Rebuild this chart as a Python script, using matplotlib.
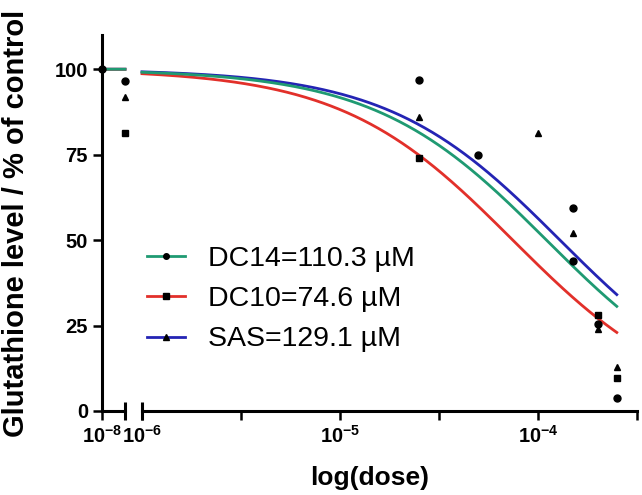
import numpy as np
import matplotlib
matplotlib.use("Agg")
import matplotlib.pyplot as plt
from matplotlib.lines import Line2D

plt.rcParams['font.family'] = ['Liberation Sans', 'DejaVu Sans']
plt.rcParams['mathtext.fontset'] = 'custom'
plt.rcParams['mathtext.rm'] = 'Liberation Sans:bold'
plt.rcParams['mathtext.it'] = 'Liberation Sans:bold'
plt.rcParams['mathtext.bf'] = 'Liberation Sans:bold'

# fitted IC50 values (M) from the legend
names = ['DC14', 'DC10', 'SAS']
ic50 = [110.3e-6, 74.6e-6, 129.1e-6]
colors = ['#1f9a72', '#e2302a', '#2424b4']
markers = ['o', 's', '^']

# measured points (dose in M, glutathione % of control)
dc14_dose = [1e-8, 1.25e-8, 2.5e-5, 5e-5, 1.5e-4, 1.5e-4, 2e-4, 2.5e-4]
dc14_val = [100, 96.5, 96.7, 75, 59.5, 43.8, 25.5, 3.8]
dc10_dose = [1.25e-8, 2.5e-5, 2e-4, 2.5e-4]
dc10_val = [81.2, 74, 28.2, 9.7]
sas_dose = [1.25e-8, 2.5e-5, 1e-4, 1.5e-4, 2e-4, 2.5e-4]
sas_val = [91.8, 86, 81.2, 52.2, 24, 12.9]

doses = [dc14_dose, dc10_dose, sas_dose]
vals = [dc14_val, dc10_val, sas_val]

yticks = [0, 25, 50, 75, 100]

fig = plt.figure(figsize=(6.42, 4.95), dpi=100)
W, H = 642, 495
bot = (H - 411) / H
hgt = (411 - 35) / H
ax1 = fig.add_axes([102 / W, bot, 23 / W, hgt])
ax2 = fig.add_axes([142 / W, bot, 495 / W, hgt])

seg1 = (1e-8, 1.25e-8)
seg2 = (1e-6, 10 ** -3.5)

x1 = np.logspace(np.log10(seg1[0]), np.log10(seg1[1]), 50)
x2 = np.logspace(-6, np.log10(2.5e-4), 300)

# draw order: SAS, DC10, DC14 so the green curve sits on top
order = [2, 1, 0]
for ax in (ax1, ax2):
    xx = x1 if ax is ax1 else x2
    for i in order:
        ax.plot(xx, 100 / (1 + xx / ic50[i]), color=colors[i], lw=2.0,
                clip_on=False, zorder=2)
    for d, v, m in zip(doses, vals, markers):
        ax.plot(d, v, linestyle='none', marker=m, color='black',
                markersize=5, clip_on=False, zorder=3)
    ax.set_xscale('log')
    ax.set_ylim(0, 110)
    ax.spines['top'].set_visible(False)
    ax.spines['right'].set_visible(False)
    ax.spines['bottom'].set_linewidth(2.2)
    ax.spines['left'].set_linewidth(2.2)
    ax.tick_params(axis='both', which='both', direction='out', length=6.5,
                   width=1.8, labelsize=14.5, pad=3.5)

ax1.set_xlim(*seg1)
ax2.set_xlim(*seg2)

ax1.set_yticks(yticks)
ax1.set_yticklabels([str(t) for t in yticks], fontweight='bold', fontsize=14.5)
ax1.set_xticks([1e-8])
ax1.set_xticks([], minor=True)
ax1.set_xticklabels([r'$10^{-8}$'])

ax2.spines['left'].set_visible(False)
ax2.set_yticks([])
ax2.set_xticks([1e-6, 1e-5, 1e-4])
ax2.set_xticklabels([r'$10^{-6}$', r'$10^{-5}$', r'$10^{-4}$'])
ax2.set_xticks([10 ** -5.5, 10 ** -4.5, 10 ** -3.5], minor=True)
ax2.set_xticklabels([], minor=True)

# break caps
ax1.plot([1, 1], [-0.024, 0.024], transform=ax1.transAxes, color='black',
         lw=2.2, clip_on=False, solid_capstyle='butt')
ax2.plot([0, 0], [-0.024, 0.024], transform=ax2.transAxes, color='black',
         lw=2.2, clip_on=False, solid_capstyle='butt')

fig.text(16 / W, 1 - 223 / H, 'Glutathione level / % of control', rotation=90,
         ha='center', va='center', fontsize=21, fontweight='bold')
fig.text(370 / W, 1 - 478 / H, 'log(dose)', ha='center', va='center',
         fontsize=19, fontweight='bold')

handles = [Line2D([], [], color=c, lw=2.0, marker=m, markersize=4,
                  markerfacecolor='black', markeredgecolor='black')
           for c, m in zip(colors, markers)]
labels = ['%s=%.1f µM' % (n, v * 1e6) for n, v in zip(names, ic50)]
fig.legend(handles, labels, loc='upper left', bbox_to_anchor=(147 / W, 1 - 246 / H),
           frameon=False, fontsize=20.5, handlelength=1.35, handletextpad=0.8,
           labelspacing=0.5, borderpad=0, borderaxespad=0)

fig.savefig('out.png', dpi=100)
